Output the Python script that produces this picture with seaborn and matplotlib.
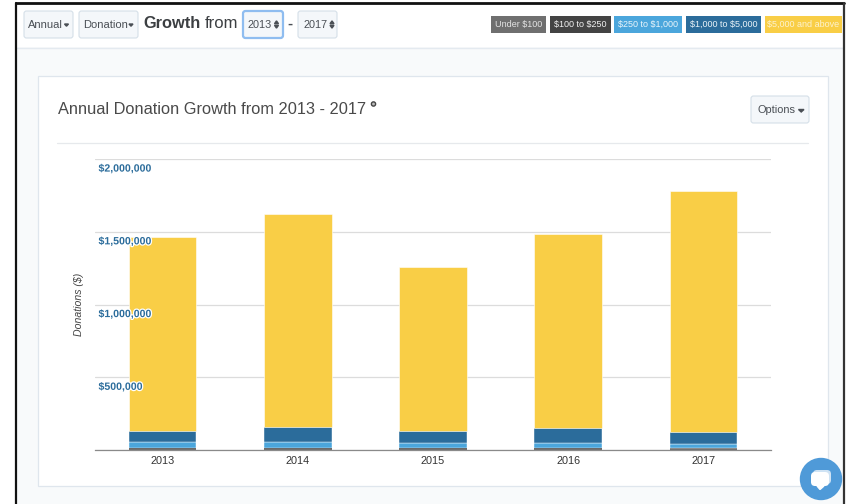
import matplotlib
matplotlib.use("Agg")
import matplotlib.pyplot as plt
import matplotlib.patheffects as pe
from matplotlib.patches import FancyBboxPatch, Rectangle, Circle, Polygon
import numpy as np
import pandas as pd
import seaborn as sns

years = ["2013", "2014", "2015", "2016", "2017"]
under_100 = [6000, 6000, 6000, 6000, 11000]
from_100 = [10000, 10000, 10000, 10000, 6000]
from_250 = [41000, 37000, 30000, 30000, 25000]
from_1000 = [74000, 103000, 85000, 103000, 85000]
from_5000 = [1331000, 1464000, 1124000, 1334000, 1651000]

series_names = ["Under $100", "$100 to $250", "$250 to $1,000", "$1,000 to $5,000", "$5,000 and above"]
series_values = [under_100, from_100, from_250, from_1000, from_5000]
series_colors = ["#6f6f6f", "#434343", "#4ba6dc", "#2b6c9b", "#f9ce46"]
series_edges = [0, 0, 0.3, 0.3, 0.4]
legend_edges = [(491, 546), (550, 611), (614, 682), (686, 761), (765, 842)]

y_ticks = [0, 500000, 1000000, 1500000, 2000000]
y_tick_labels = ["$500,000", "$1,000,000", "$1,500,000", "$2,000,000"]

W, H = 848, 504
sns.set_theme(style="white")
plt.rcParams["font.family"] = ["Liberation Sans", "DejaVu Sans"]
plt.rcParams["text.parse_math"] = False

fig = plt.figure(figsize=(W / 100, H / 100), dpi=100, facecolor="white")

# Page furniture sits on a full-figure layer measured in pixels.
page = fig.add_axes([0, 0, 1, 1], zorder=0)


def box(ax, x0, y0, x1, y1, face, edge="none", lw=1.0, radius=0):
    if radius:
        patch = FancyBboxPatch((x0 + radius, y0 + radius), x1 - x0 - 2 * radius, y1 - y0 - 2 * radius,
                               boxstyle=f"round,pad={radius},rounding_size={radius}",
                               facecolor=face, edgecolor=edge, linewidth=lw)
    else:
        patch = Rectangle((x0, y0), x1 - x0, y1 - y0, facecolor=face, edgecolor=edge, linewidth=lw)
    ax.add_patch(patch)


def select_arrows(ax, x, y):
    ax.add_patch(Polygon([[x - 2, y - 0.8], [x + 2, y - 0.8], [x, y - 3.6]], color="#4a4f55"))
    ax.add_patch(Polygon([[x - 2, y + 0.8], [x + 2, y + 0.8], [x, y + 3.6]], color="#4a4f55"))


box(page, 17, 3, 843, 504, "#f8fafb")
box(page, 17, 3, 843, 47, "#ffffff")
page.plot([17, 843], [47.5, 47.5], color="#e4eaf0", lw=1)

# Soft shade along the foot of the page
shade = np.linspace(0.975, 0.93, 32).reshape(-1, 1)
page.imshow(shade, extent=(17, 843, 504, 472), cmap="gray", vmin=0, vmax=1, aspect="auto", zorder=0.5)
page.set_xlim(0, W)
page.set_ylim(H, 0)
page.axis("off")

# Frame around the dashboard
page.plot([16, 16], [504, 2.5], color="#111111", lw=1.6, zorder=4)
page.plot([16, 843.5], [2.5, 2.5], color="#111111", lw=2, zorder=4)
page.plot([843.5, 843.5], [2.5, 504], color="#333333", lw=1.6, zorder=4)

# Header controls
control_face = "#f4f7fa"
control_edge = "#d5dfe8"
text_color = "#4a4f55"
box(page, 24, 11, 73, 38, control_face, control_edge, 0.8, 2.5)
page.text(28, 24.5, "Annual", fontsize=8, color=text_color, va="center")
page.add_patch(Polygon([[64.5, 24], [68.5, 24], [66.5, 26.2]], color=text_color))
box(page, 79, 11, 138, 38, control_face, control_edge, 0.8, 2.5)
page.text(83, 24.5, "Donation", fontsize=8, color=text_color, va="center")
page.add_patch(Polygon([[129, 24], [133, 24], [131, 26.2]], color=text_color))
page.text(143, 23, "Growth", fontsize=11.8, fontweight="bold", color="#3c3f42", va="center")
page.text(205, 23, "from", fontsize=12, color="#3c3f42", va="center")
box(page, 243, 11, 283, 38, control_face, "#8fbdf0", 1.6, 2.5)
page.text(248, 24.5, "2013", fontsize=7.8, color=text_color, va="center")
select_arrows(page, 276.5, 24.5)
page.text(287.5, 23.5, "-", fontsize=11, fontweight="bold", color=text_color, va="center")
box(page, 298, 11, 337, 38, control_face, control_edge, 0.8, 2.5)
page.text(304, 24.5, "2017", fontsize=7.8, color=text_color, va="center")
select_arrows(page, 332, 24.5)

# Legend chips
chip_text = ["#e4e4e4", "#f0f0f0", "#eaf5fb", "#eaf3f8", "#fdf3cf"]
for name, color, (x0, x1), label_color in zip(series_names, series_colors, legend_edges, chip_text):
    box(page, x0, 16, x1, 32.5, color)
    page.text((x0 + x1) / 2, 24.3, name, fontsize=6.5, color=label_color, ha="center", va="center")

# Chart panel
box(page, 38, 76, 828, 485.5, "#ffffff", "#dfe6ed", 0.9)
page.text(57.5, 110, "Annual Donation Growth from 2013 - 2017", fontsize=11.8, color="#4a4a4a", va="center")
page.add_patch(Circle((373.5, 104), 2.1, color="#444444"))
page.add_patch(Circle((373.5, 104), 0.7, color="#bbbbbb"))
page.plot([57, 808], [142.5, 142.5], color="#e6e9ec", lw=0.9)
box(page, 751, 96, 809, 123, control_face, control_edge, 0.8, 2.5)
page.text(757, 110, "Options", fontsize=7.9, color=text_color, va="center")
page.add_patch(Polygon([[798.5, 109.5], [804, 109.5], [801.2, 112]], color=text_color))

# Plot area aligned with the panel
left, right, top, bottom = 95, 771, 159, 450
ax = fig.add_axes([left / W, 1 - bottom / H, (right - left) / W, (bottom - top) / H], zorder=1)
ax.patch.set_alpha(0)

frame = pd.DataFrame({"year": years})
running = [0] * len(years)
for name, values, color, edge_width in zip(series_names, series_values, series_colors, series_edges):
    frame["value"] = values
    sns.barplot(data=frame, x="year", y="value", color=color, saturation=1, width=0.5,
                bottom=running, edgecolor="white", linewidth=edge_width, ax=ax, zorder=3, errorbar=None)
    running = [a + b for a, b in zip(running, values)]

ax.set_xlim(-0.5, 4.5)
ax.set_ylim(0, 2000000)
ax.set_xlabel("")
ax.set_ylabel("")
ax.set_yticks(y_ticks)
ax.set_yticklabels([])
ax.grid(axis="y", color="#dcdcdc", lw=0.9, zorder=0)
ax.set_axisbelow(True)
ax.tick_params(axis="x", length=0, pad=4, labelsize=7.8, labelcolor="#333333")
ax.tick_params(axis="y", length=0)

# Value labels hang just under their grid lines and overlap the bars.
for value, text in zip(y_ticks[1:], y_tick_labels):
    ax.annotate(text, xy=(0, value), xycoords=("axes fraction", "data"),
                xytext=(3.5 * 0.72, -9.6 * 0.72), textcoords="offset points",
                ha="left", va="center", fontsize=7.6, fontweight="bold", color="#2b6c9b",
                zorder=6, path_effects=[pe.withStroke(linewidth=1.8, foreground="white")])

for side in ("top", "left", "right"):
    ax.spines[side].set_visible(False)
ax.spines["bottom"].set_color("#8a8a8a")
ax.spines["bottom"].set_linewidth(0.9)
ax.spines["bottom"].set_zorder(5)

page.text(78.5, 304, "Donations ($)", fontsize=7.6, style="italic", color="#444444",
          rotation=90, ha="center", va="center")

# Chat bubble in the corner
overlay = fig.add_axes([0, 0, 1, 1], zorder=2)
overlay.set_xlim(0, W)
overlay.set_ylim(H, 0)
overlay.axis("off")
overlay.add_patch(Circle((821, 479), 20.5, color="#4f9ad8"))
box(overlay, 813, 470, 831, 484, "#cfe3f4", radius=4)
box(overlay, 811, 472, 829, 486, "#ffffff", radius=4)
overlay.add_patch(Polygon([[817, 486], [824, 486], [820, 489.5]], color="#ffffff"))

fig.savefig("out.png", dpi=100)
